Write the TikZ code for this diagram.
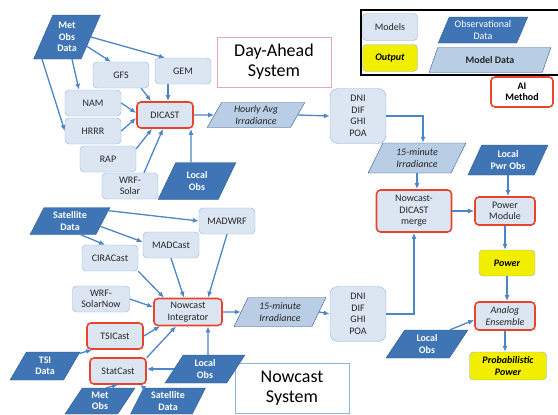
\documentclass[tikz,border=0pt]{standalone}
\usepackage{fontspec}
\setmainfont{Carlito}
\usetikzlibrary{shapes.geometric,arrows.meta}

\definecolor{modfill}{HTML}{DCE6F2}
\definecolor{modline}{HTML}{8DB3E2}
\definecolor{obsfill}{HTML}{3F75B5}
\definecolor{obsline}{HTML}{2E5A8F}
\definecolor{mdfill}{HTML}{B9CDE5}
\definecolor{aired}{HTML}{E8432D}
\definecolor{flowblue}{HTML}{4A86C8}
\definecolor{outyel}{HTML}{F2EE00}

\begin{document}
\begin{tikzpicture}[x=1pt, y=-1pt, font=\fontsize{10}{11.5}\selectfont,
    >={Latex[length=6pt,width=5pt]},
    model/.style={draw=modline, fill=modfill, rounded corners=4pt, align=center,
        minimum width=56pt, minimum height=26pt, inner sep=1pt, text=black!85},
    aimodel/.style={model, draw=aired, line width=1.6pt},
    output/.style={model, fill=outyel, text=black,
        font=\fontsize{10}{11.5}\selectfont\bfseries\itshape},
    dnibox/.style={model, rounded corners=8pt, minimum height=55pt},
    obsdata/.style={trapezium, trapezium left angle=65, trapezium right angle=115,
        trapezium stretches=true, draw=obsline, fill=obsfill, text=white, align=center,
        inner sep=1pt, font=\fontsize{10}{11.5}\selectfont\bfseries},
    moddata/.style={obsdata, fill=mdfill, text=black!85,
        font=\fontsize{10}{11.5}\selectfont\itshape},
    sysbox/.style={draw=modline, line width=0.8pt, align=center,
        minimum width=114pt, minimum height=50pt, font=\fontsize{18}{20}\selectfont},
    flow/.style={->, draw=flowblue, line width=1.3pt}]

    \useasboundingbox (0,0) rectangle (558,415);

    % legend
    \node[draw, line width=1.5pt, minimum width=200pt, minimum height=65pt] (legend) at (461,42.5) {};
    \node[model, minimum width=55pt, minimum height=27pt] (lmodels) at (390,27) {Models};
    \node[output, minimum width=55pt, minimum height=27pt] (loutput) at (390,58) {Output};
    \node[obsdata, minimum width=90pt, minimum height=26pt, font=\fontsize{10}{11.5}\selectfont] (lobs) at (483,30) {Observational\\Data};
    \node[moddata, minimum width=122pt, minimum height=25pt, font=\fontsize{10}{11.5}\selectfont\bfseries] (lmod) at (490,60) {Model Data};
    \node[aimodel, fill=white, minimum width=62pt, minimum height=30pt, text=black, font=\fontsize{10}{11.5}\selectfont\bfseries] (lai) at (522,92) {AI\\Method};

    % day-ahead system
    \node[sysbox, draw=purple!35] (dayahead) at (274,62) {Day-Ahead\\System};
    \node[obsdata, minimum width=67pt, minimum height=44pt] (met) at (67,37) {Met\\Obs\\Data};
    \node[model] (gfs) at (121,75) {GFS};
    \node[model] (gem) at (183,71) {GEM};
    \node[model] (nam) at (93,103) {NAM};
    \node[model] (hrrr) at (93,131) {HRRR};
    \node[aimodel] (dicast) at (165,115) {DICAST};
    \node[model] (rap) at (108,159) {RAP};
    \node[model] (wrfsol) at (130,186) {WRF-\\Solar};
    \node[obsdata, minimum width=78pt, minimum height=37pt] (lobsa) at (197,181) {Local\\Obs};
    \node[moddata, minimum width=98pt, minimum height=25pt] (hourly) at (256,115) {Hourly Avg\\Irradiance};
    \node[dnibox] (dnia) at (358,116) {DNI\\DIF\\GHI\\POA};
    \node[moddata, minimum width=98pt, minimum height=30pt] (fifa) at (417,158) {15-minute\\Irradiance};
    \node[obsdata, minimum width=80pt, minimum height=30pt] (lpwr) at (508,160) {Local\\Pwr Obs};
    \node[aimodel, minimum width=75pt, minimum height=42pt] (merge) at (414,211) {Nowcast-\\DICAST\\merge};
    \node[aimodel, minimum width=60pt, minimum height=28pt] (pmod) at (505,211) {Power\\Module};
    \node[output] (power) at (507,263) {Power};
    \node[aimodel, minimum width=60pt, minimum height=28pt, font=\fontsize{10}{11.5}\selectfont\itshape] (analog) at (505,316) {Analog\\Ensemble};
    \node[obsdata, minimum width=82pt, minimum height=28pt] (lobsc) at (427,344) {Local\\Obs};
    \node[output, minimum width=77pt, minimum height=28pt] (prob) at (508,366) {Probabilistic\\Power};

    % nowcast system
    \node[sysbox] (nowsys) at (292,388) {Nowcast\\System};
    \node[obsdata, minimum width=80pt, minimum height=27pt] (sata) at (70,221) {Satellite\\Data};
    \node[model] (madwrf) at (227,221) {MADWRF};
    \node[model] (madcast) at (171,245) {MADCast};
    \node[model] (cira) at (110,258) {CIRACast};
    \node[model, minimum width=57pt] (wrfnow) at (101,299) {WRF-\\SolarNow};
    \node[aimodel, minimum width=68pt, minimum height=27pt] (integ) at (188,312) {Nowcast\\Integrator};
    \node[moddata, minimum width=92pt, minimum height=29pt] (fifb) at (280,312) {15-minute\\Irradiance};
    \node[dnibox] (dnib) at (358,314) {DNI\\DIF\\GHI\\POA};
    \node[aimodel] (tsicast) at (115,336) {TSICast};
    \node[aimodel] (statcast) at (118,371) {StatCast};
    \node[obsdata, minimum width=70pt, minimum height=28pt] (tsidata) at (45,366) {TSI\\Data};
    \node[obsdata, minimum width=80pt, minimum height=28pt] (lobsb) at (205,369) {Local\\Obs};
    \node[obsdata, minimum width=70pt, minimum height=26pt] (metb) at (100,401) {Met\\Obs};
    \node[obsdata, minimum width=75pt, minimum height=26pt] (satb) at (168,401) {Satellite\\Data};

    \draw[flow] (met.east) -- ([xshift=-18pt]gem.north);
    \draw[flow] (met.-25) -- ([xshift=-10pt]gfs.north);
    \draw[flow] ([xshift=5pt]met.south) -- ([xshift=-14pt]nam.north);
    \draw[flow] ([xshift=-25pt]met.south) -- (hrrr.west);
    \draw[flow] ([xshift=-8pt]gfs.south east) -- ([xshift=-14pt]dicast.north);
    \draw[flow] ([xshift=-15pt]gem.south) -- ([xshift=3pt]dicast.north);
    \draw[flow] (nam.east) -- ([yshift=2pt]dicast.west);
    \draw[flow] (hrrr.east) -- ([yshift=-3pt]dicast.west);
    \draw[flow] ([yshift=-3pt]rap.north east) -- ([xshift=-13pt]dicast.south);
    \draw[flow] ([xshift=14pt]wrfsol.north) -- ([xshift=-2pt]dicast.south);
    \draw[flow] ([xshift=-6pt]lobsa.north) -- ([xshift=26pt]dicast.south);
    \draw[flow] (dicast.east) -- (hourly.west);
    \draw[flow] (hourly.east) -- (dnia.west);
    \draw[flow] (dnia.east) -| ([xshift=6pt]fifa.north);
    \draw[flow] (fifa.south) -- (fifa.south |- merge.north);
    \draw[flow] (merge.east) -- (pmod.west);
    \draw[flow] (lpwr.south) -- (lpwr.south |- pmod.north);
    \draw[flow] (pmod.south) -- (pmod.south |- power.north);
    \draw[flow] (power.south) -- (power.south |- analog.north);
    \draw[flow] (analog.south) -- (analog.south |- prob.north);
    \draw[flow] ([xshift=23pt]lobsc.north) -- ([yshift=-4pt]analog.west);
    \draw[flow] (dnib.east) -| (merge.south);

    \draw[flow] (sata.15) -- (madwrf.west);
    \draw[flow] (sata.-10) -- ([yshift=3pt]madcast.west);
    \draw[flow] ([xshift=-3pt]sata.south east) -- ([xshift=-5pt]cira.north);
    \draw[flow] (cira.-25) -- ([xshift=-24pt]integ.north);
    \draw[flow] (madcast.south) -- ([xshift=-4pt]integ.north);
    \draw[flow] (madwrf.south) -- ([xshift=20pt]integ.north);
    \draw[flow] (wrfnow.east) -- ([yshift=5pt]integ.west);
    \draw[flow] (tsicast.east) -- ([xshift=-28pt]integ.south);
    \draw[flow] (statcast.25) -- ([xshift=-12pt]integ.south);
    \draw[flow] ([xshift=3pt]lobsb.north) -- ([xshift=20pt]integ.south);
    \draw[flow] (lobsb.west) -- (lobsb.west -| statcast.east);
    \draw[flow] (tsidata.20) -- ([xshift=-23pt]tsicast.south);
    \draw[flow] ([xshift=6pt]metb.north) -- (statcast.south);
    \draw[flow] ([xshift=-24pt]satb.north) -- ([xshift=22pt]statcast.south);
    \draw[flow] (integ.east) -- (fifb.west);
    \draw[flow] (fifb.east) -- (dnib.west);
\end{tikzpicture}
\end{document}
